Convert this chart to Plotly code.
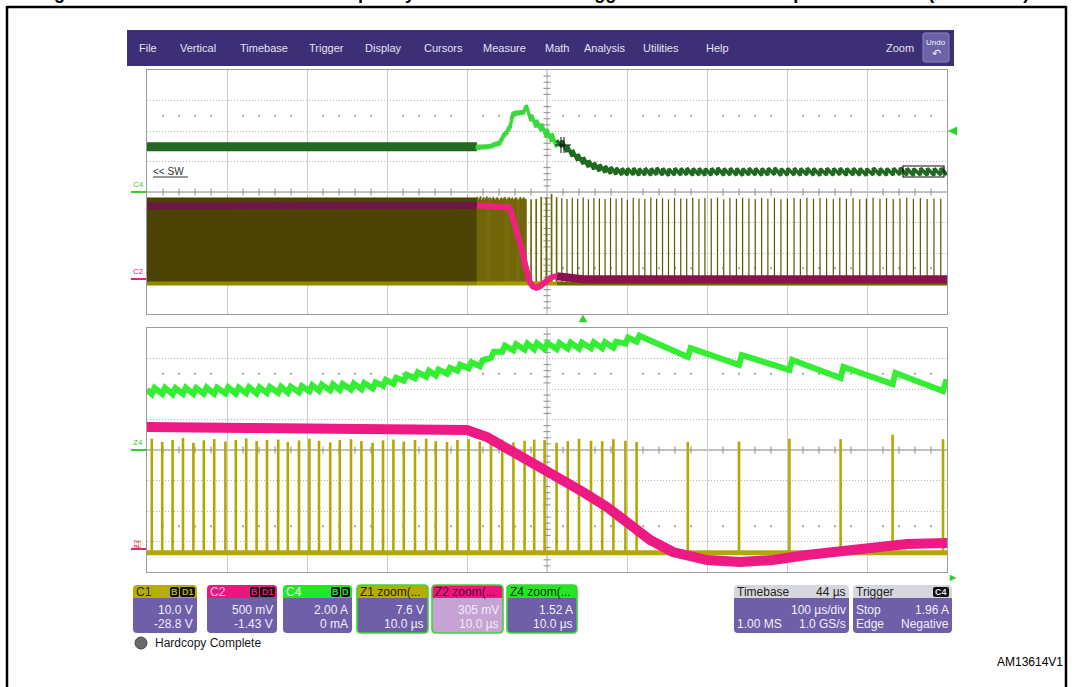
import numpy as np
import plotly.graph_objects as go

W, H = 1074, 687
FONT = "Liberation Sans, Arial, sans-serif"

# ======================= DATA =======================
menu_items = ["File", "Vertical", "Timebase", "Trigger", "Display", "Cursors",
              "Measure", "Math", "Analysis", "Utilities", "Help"]
channel_names = ["C1", "C2", "C4", "Z1 zoom(...", "Z2 zoom(...", "Z4 zoom(..."]
channel_row1 = ["10.0 V", "500 mV", "2.00 A", "7.6 V", "305 mV", "1.52 A"]
channel_row2 = ["-28.8 V", "-1.43 V", "0 mA", "10.0 \u00b5s", "10.0 \u00b5s", "10.0 \u00b5s"]
channel_badges = [["B", "D1"], ["B", "D1"], ["B", "D"], [], [], []]
timebase_texts = ["Timebase", "44 \u00b5s", "100 \u00b5s/div", "1.00 MS", "1.0 GS/s"]
trigger_texts = ["Trigger", "C4", "Stop", "1.96 A", "Edge", "Negative"]

# switching pulses inside the zoom window (µs, trigger at 0)
pulse_t_zoom = [-131.9, -130.6, -129.3, -128.0, -126.7, -125.4, -124.1, -122.7, -121.4, -120.1,
                -118.8, -117.5, -116.1, -114.9, -113.5, -112.2, -111.0, -109.6, -108.4, -107.0,
                -105.7, -104.3, -103.0, -101.7, -100.4, -99.0, -97.6, -96.4, -95.0, -93.7,
                -92.3, -90.9, -89.5, -88.1, -86.7, -85.3, -84.1, -82.8, -81.3, -79.9,
                -78.5, -77.0, -75.6, -74.2, -72.7, -71.3, -64.9, -58.5, -52.2, -45.8,
                -39.3, -33.0]
# switching pulses after the zoom window (µs)
pulse_t_late = [-26.5, -20.0, -13.4, -6.7, 0.2, 6.8, 13.6, 20.5, 27.6, 34.4,
                41.4, 48.5, 55.4, 62.8, 70.0, 77.3, 84.8, 92.0, 99.4, 106.9,
                114.4, 122.2, 129.6, 137.2, 144.9, 152.4, 160.3, 168.1, 175.9, 183.7,
                191.8, 199.5, 207.4, 215.3, 223.3, 231.1, 239.3, 247.4, 255.5, 263.8,
                271.7, 279.9, 288.1, 296.3, 304.5, 312.9, 321.0, 329.3, 337.6, 345.9,
                354.2, 362.6, 371.2, 379.4, 387.8, 396.2, 404.7, 413.0, 421.7, 430.2,
                438.7, 447.2]
# C1 (switch node voltage, V) pulse peaks
c1_peak_zoom = [27.2, 26.4, 26.9, 27.4, 26.2, 26.8, 27.1, 26.5, 26.9, 27.3,
                26.6, 26.9, 27.0, 26.4, 26.8, 27.2, 26.7, 26.3, 26.9, 27.1,
                26.6, 26.2, 26.8, 27.0, 26.5, 26.9, 27.2, 26.6, 26.4, 26.9,
                27.1, 26.5, 26.8, 27.0, 26.3, 26.7, 27.0, 26.9, 26.2, 26.6,
                27.2, 26.7, 26.6, 27.1, 26.7, 26.4, 26.4, 26.5, 27.2, 27.1,
                28.2, 27.1]
c1_peak_late = [26.8, 26.5, 26.9, 26.6, 27.0, 26.4, 26.8, 26.7, 26.5, 26.9,
                26.6, 26.8, 26.3, 26.9, 26.7, 26.5, 27.0, 26.6, 26.8, 26.4,
                26.9, 26.7, 26.6, 26.9, 26.5, 26.8, 26.7, 27.0, 26.4, 26.8,
                26.6, 26.9, 26.7, 26.5, 26.8, 26.6, 26.9, 26.4, 26.7, 26.8,
                26.5, 26.9, 26.6, 26.8, 26.7, 26.5, 26.9, 26.6, 26.8, 26.4,
                26.7, 26.9, 26.6, 26.8, 26.5, 26.7, 26.9, 26.6, 26.8, 26.5,
                26.7, 26.6]
c1_base_t = [-545.0, 455.0]
c1_base_v = [-1.2, -1.2]
# before the zoom window the switching is unresolved at 100 µs/div: envelope only
c1_block_t = [-545.0, -132.5]
c1_block_top = [26.9, 26.9]

# C4 (current, A): value just before / just after each pulse
c4_valley_zoom = [2.79, 2.80, 2.78, 2.80, 2.79, 2.81, 2.80, 2.82, 2.81, 2.83,
                  2.82, 2.84, 2.85, 2.86, 2.88, 2.93, 2.95, 2.97, 2.99, 3.01,
                  3.03, 3.07, 3.20, 3.30, 3.45, 3.57, 3.65, 3.71, 3.80, 3.95,
                  4.07, 4.17, 4.60, 4.90, 4.97, 5.00, 5.02, 5.03, 5.03, 5.05,
                  5.05, 5.07, 5.07, 5.10, 5.30, 5.40, 4.64, 4.24, 3.99, 3.59,
                  3.29, 2.94]
c4_peak_zoom = [3.09, 3.10, 3.08, 3.10, 3.09, 3.11, 3.10, 3.12, 3.11, 3.13,
                3.12, 3.14, 3.15, 3.16, 3.18, 3.23, 3.25, 3.27, 3.29, 3.31,
                3.33, 3.37, 3.50, 3.60, 3.75, 3.87, 3.95, 4.01, 4.10, 4.25,
                4.37, 4.47, 4.90, 5.20, 5.27, 5.30, 5.32, 5.33, 5.33, 5.35,
                5.35, 5.37, 5.37, 5.40, 5.60, 5.70, 5.08, 4.73, 4.49, 4.14,
                3.84, 3.39]
c4_valley_late = [2.95, 2.62, 2.32, 2.05, 1.83, 1.63, 1.48, 1.36, 1.27, 1.20,
                  1.15, 1.12, 1.10, 1.12, 1.08, 1.11, 1.09, 1.13, 1.10, 1.07,
                  1.11, 1.10, 1.12, 1.09, 1.11, 1.08, 1.10, 1.13, 1.09, 1.11,
                  1.10, 1.08, 1.12, 1.10, 1.09, 1.11, 1.13, 1.08, 1.10, 1.11,
                  1.09, 1.12, 1.10, 1.08, 1.11, 1.10, 1.12, 1.09, 1.11, 1.10,
                  1.08, 1.12, 1.10, 1.09, 1.11, 1.13, 1.10, 1.08, 1.11, 1.10,
                  1.09, 1.12]
c4_peak_late = [3.38, 3.05, 2.76, 2.49, 2.27, 2.07, 1.92, 1.80, 1.71, 1.64,
                1.59, 1.56, 1.55, 1.57, 1.53, 1.56, 1.54, 1.58, 1.55, 1.52,
                1.56, 1.55, 1.57, 1.54, 1.56, 1.53, 1.55, 1.58, 1.54, 1.56,
                1.55, 1.53, 1.57, 1.55, 1.54, 1.56, 1.58, 1.53, 1.55, 1.56,
                1.54, 1.57, 1.55, 1.53, 1.56, 1.55, 1.57, 1.54, 1.56, 1.55,
                1.53, 1.57, 1.55, 1.54, 1.56, 1.58, 1.55, 1.53, 1.56, 1.55,
                1.54, 1.57]
c4_start = (-132.5, 3.0)
c4_end = (455.0, 1.12)
c4_before_t = [-545.0, -132.5]
c4_before_i = [2.96, 2.96]

# C2 (V)
c2_t = [-545.0, -400.0, -250.0, -132.5, -120.0, -102.5, -92.5, -90.0, -85.9, -83.4,
        -80.9, -78.0, -75.0, -72.5, -69.6, -66.75, -62.5, -58.4, -54.25, -50.0,
        -45.9, -41.75, -37.5, -32.5, -20.0, 0.0, 100.0, 200.0, 300.0, 455.0]
c2_v = [1.20, 1.21, 1.20, 1.21, 1.20, 1.18, 1.18, 1.11, 0.93, 0.82,
        0.71, 0.56, 0.41, 0.25, 0.08, -0.04, -0.12, -0.14, -0.12, -0.07,
        -0.04, 0.01, 0.04, 0.05, 0.02, 0.0, 0.0, -0.01, 0.0, 0.0]

# ======================= LAYOUT CONSTANTS =======================
TX0, TX1 = 147, 947
TY0, TY1 = 70, 314
BY0, BY1 = 328, 572
TOP_RANGE = [-545.0, 455.0]
ZOOM_RANGE = [-132.5, -32.5]
C1_RANGE = [-11.2, 68.8]
C2_RANGE = [-0.57, 3.43]
C4_RANGE = [-8.0, 8.0]
Z1_RANGE = [-6.0, 54.8]
Z2_RANGE = [-0.24, 2.20]
Z4_RANGE = [-6.08, 6.08]
RISE = 0.35


def PX(x):
    return x / W


def PY(y):
    return 1 - y / H


shapes, annotations = [], []


def rect(x0, y0, x1, y1, fill=None, line=None, lw=0, layer="above"):
    shapes.append(dict(type="rect", xref="paper", yref="paper",
                       x0=PX(x0), x1=PX(x1), y0=PY(y1), y1=PY(y0),
                       fillcolor=fill or "rgba(0,0,0,0)", layer=layer,
                       line=dict(color=line or "rgba(0,0,0,0)", width=lw)))


def rpath(x0, y0, x1, y1, rt, rb, fill=None, line=None, lw=0):
    def P(x, y):
        return f"{PX(x):.5f},{PY(y):.5f}"
    d = (f"M{P(x0 + rt, y0)} L{P(x1 - rt, y0)} Q{P(x1, y0)} {P(x1, y0 + rt)} "
         f"L{P(x1, y1 - rb)} Q{P(x1, y1)} {P(x1 - rb, y1)} L{P(x0 + rb, y1)} "
         f"Q{P(x0, y1)} {P(x0, y1 - rb)} L{P(x0, y0 + rt)} Q{P(x0, y0)} {P(x0 + rt, y0)} Z")
    shapes.append(dict(type="path", xref="paper", yref="paper", path=d,
                       fillcolor=fill or "rgba(0,0,0,0)",
                       line=dict(color=line or "rgba(0,0,0,0)", width=lw)))


def tri(pts, color):
    d = "M" + " L".join(f"{PX(x):.5f},{PY(y):.5f}" for x, y in pts) + " Z"
    shapes.append(dict(type="path", xref="paper", yref="paper", path=d,
                       fillcolor=color, line=dict(color=color, width=0.5)))


def seg(x0, y0, x1, y1, color, w=1):
    shapes.append(dict(type="line", xref="paper", yref="paper",
                       x0=PX(x0), x1=PX(x1), y0=PY(y0), y1=PY(y1),
                       line=dict(color=color, width=w)))


def text(x, y, s, size=12, color="#000", anchor="left", angle=0, family=FONT):
    annotations.append(dict(xref="paper", yref="paper", x=PX(x), y=PY(y), text=s,
                            showarrow=False, xanchor=anchor, yanchor="middle",
                            textangle=angle, borderpad=0,
                            font=dict(family=family, size=size, color=color)))


fig = go.Figure()


def add(x, y, xa, ya, color, width, fill=None, fillcolor=None):
    fig.add_trace(go.Scatter(x=x, y=y, xaxis=xa, yaxis=ya, mode="lines",
                             line=dict(color=color, width=width),
                             fill=fill, fillcolor=fillcolor,
                             hoverinfo="skip", showlegend=False))


def grid_marks(xa, ya, xr, yr):
    dx = (xr[1] - xr[0]) / 50.0
    dy = (yr[1] - yr[0]) / 40.0
    xc = (xr[0] + xr[1]) / 2
    yc = (yr[0] + yr[1]) / 2
    xs = [xr[0] + dx * k for k in range(1, 50) if k % 5]
    ys = [yr[0] + dy * k for k in range(1, 40) if k % 5]
    fig.add_trace(go.Scatter(x=xs, y=[yc] * len(xs), xaxis=xa, yaxis=ya, mode="markers",
                             marker=dict(symbol="line-ns", size=5, line=dict(width=1, color="#8a8a8a")),
                             hoverinfo="skip", showlegend=False))
    fig.add_trace(go.Scatter(x=[xc] * len(ys), y=ys, xaxis=xa, yaxis=ya, mode="markers",
                             marker=dict(symbol="line-ew", size=5, line=dict(width=1, color="#8a8a8a")),
                             hoverinfo="skip", showlegend=False))
    rows = [yc + 12.5 * dy, yc - 12.5 * dy]
    fig.add_trace(go.Scatter(x=xs * 2, y=[rows[0]] * len(xs) + [rows[1]] * len(xs),
                             xaxis=xa, yaxis=ya, mode="markers",
                             marker=dict(symbol="square", size=2, color="#a8a8a8"),
                             hoverinfo="skip", showlegend=False))


def spikes(ts, peaks, base):
    xs, ys = [], []
    for t, p in zip(ts, peaks):
        xs += [t, t, None]
        ys += [base, p, None]
    return xs, ys


# ---- sawtooth of C4 built from pulse list ----
all_t = pulse_t_zoom + pulse_t_late
all_lo = c4_valley_zoom + c4_valley_late
all_hi = c4_peak_zoom + c4_peak_late
c4x, c4y = [c4_start[0]], [c4_start[1]]
for t, lo, hi in zip(all_t, all_lo, all_hi):
    c4x += [t, t + RISE]
    c4y += [lo, hi]
c4x.append(c4_end[0])
c4y.append(c4_end[1])
nb = 1 + 2 * len(pulse_t_zoom)

c2t = np.array(c2_t)
c2v = np.array(c2_v)
mL = c2t <= ZOOM_RANGE[0]
mW = (c2t >= ZOOM_RANGE[0]) & (c2t <= ZOOM_RANGE[1])
mR = c2t >= ZOOM_RANGE[1]

# ================= TOP PANEL =================
grid_marks("x", "y", TOP_RANGE, C1_RANGE)
add([c1_block_t[0], c1_block_t[1], c1_block_t[1], c1_block_t[0], c1_block_t[0]],
    [c1_base_v[0], c1_base_v[0], c1_block_top[1], c1_block_top[0], c1_base_v[0]],
    "x", "y", "#4b4404", 0.5, fill="toself", fillcolor="#4b4404")
sx, sy = spikes(pulse_t_zoom, c1_peak_zoom, c1_base_v[0])
add(sx, sy, "x", "y", "#726708", 1.7)
sx, sy = spikes(pulse_t_late, c1_peak_late, c1_base_v[0])
add(sx, sy, "x", "y", "#5e5502", 1.2)
add([c1_base_t[0], ZOOM_RANGE[0]], c1_base_v, "x", "y", "#8f8600", 4)
add(list(ZOOM_RANGE), c1_base_v, "x", "y", "#a59b00", 4)
add([ZOOM_RANGE[1], c1_base_t[1]], c1_base_v, "x", "y", "#6b6200", 4)
# C2
add(c2t[mL], c2v[mL], "x", "y3", "#6e1746", 7)
add(c2t[mW], c2v[mW], "x", "y3", "#f0207f", 6)
add(c2t[mR], c2v[mR], "x", "y3", "#8a1050", 8)
# C4
add(c4_before_t, c4_before_i, "x", "y4", "#226a22", 9)
add(c4x[:nb], c4y[:nb], "x", "y4", "#3ad83a", 3.5)
add(c4x[nb - 1:], c4y[nb - 1:], "x", "y4", "#1f6a1f", 3.5)

# ================= BOTTOM PANEL =================
grid_marks("x2", "y2", ZOOM_RANGE, Z1_RANGE)
add([ZOOM_RANGE[0] - 1, ZOOM_RANGE[1] + 1], c1_base_v, "x2", "y2", "#b3a800", 5)
sx, sy = spikes(pulse_t_zoom + pulse_t_late[:2], c1_peak_zoom + c1_peak_late[:2], c1_base_v[0])
add(sx, sy, "x2", "y2", "#b3a800", 2.6)
add(c2_t, c2_v, "x2", "y5", "#ee1a84", 10)
add(c4x, c4y, "x2", "y6", "#33ee33", 6)

# ================= AXES =================
common_x = dict(showgrid=True, gridcolor="#cdcdcd", gridwidth=1, zeroline=False,
                showticklabels=False, ticks="", showline=True, mirror=True,
                linecolor="#9c9c9c", linewidth=1, fixedrange=True)
common_y = dict(showgrid=True, gridcolor="#b4b4b4", griddash="1px,2px", gridwidth=1,
                zeroline=False, showticklabels=False, ticks="", showline=True,
                mirror=True, linecolor="#9c9c9c", linewidth=1, fixedrange=True)
xd = [PX(TX0), PX(TX1)]
layout = dict(
    xaxis=dict(domain=xd, range=TOP_RANGE, tick0=TOP_RANGE[0], dtick=100, anchor="y", **common_x),
    yaxis=dict(domain=[PY(TY1), PY(TY0)], range=C1_RANGE, tick0=C1_RANGE[0], dtick=10,
               anchor="x", **common_y),
    yaxis3=dict(overlaying="y", range=C2_RANGE, visible=False, anchor="x", fixedrange=True),
    yaxis4=dict(overlaying="y", range=C4_RANGE, visible=False, anchor="x", fixedrange=True),
    xaxis2=dict(domain=xd, range=ZOOM_RANGE, tick0=ZOOM_RANGE[0], dtick=10, anchor="y2", **common_x),
    yaxis2=dict(domain=[PY(BY1), PY(BY0)], range=Z1_RANGE, tick0=Z1_RANGE[0], dtick=7.6,
                anchor="x2", **common_y),
    yaxis5=dict(overlaying="y2", range=Z2_RANGE, visible=False, anchor="x2", fixedrange=True),
    yaxis6=dict(overlaying="y2", range=Z4_RANGE, visible=False, anchor="x2", fixedrange=True),
)

# centre cross lines
for xa, ya, xr, yr in [("x", "y", TOP_RANGE, C1_RANGE), ("x2", "y2", ZOOM_RANGE, Z1_RANGE)]:
    xc = (xr[0] + xr[1]) / 2
    yc = (yr[0] + yr[1]) / 2
    shapes.append(dict(type="line", xref=xa + " domain", yref=ya, x0=0, x1=1, y0=yc, y1=yc,
                       line=dict(color="#8a8a8a", width=1), layer="below"))
    shapes.append(dict(type="line", xref=xa, yref=ya + " domain", x0=xc, x1=xc, y0=0, y1=1,
                       line=dict(color="#b0b0b0", width=1), layer="below"))

# ================= CHROME =================
# document frame
seg(7, 7, 1066, 7, "#000", 2.5)
seg(7, 6, 7, 690, "#000", 2.5)
seg(1066, 6, 1066, 690, "#000", 2.5)

# cut-off figure title (only its lowest pixels are inside the picture)
annotations.append(dict(xref="paper", yref="paper", x=PX(36), y=1 + 7 / H, xanchor="left",
                        yanchor="middle", showarrow=False,
                        text="<b>Figure 34. Burst mode at reduced frequency: waveforms when triggered on the internal Ipk limit current (zoomed in)</b>",
                        font=dict(family=FONT, size=18, color="#000")))

# menu bar
rect(127, 30, 954, 66, fill="#3d2f76")
menu_x = [148, 198, 264, 326, 383, 443, 504, 557, 604, 661, 717]
for s, x in zip(menu_items, menu_x):
    text(x, 48, s, 11, "#e4e2f2", "center")
text(900, 48, "Zoom", 11, "#e4e2f2", "center")
rpath(923, 33, 949, 62, 2, 2, fill="#6c62a8", line="#8c84c4", lw=1)
text(936, 42, "Undo", 8, "#f0f0ff", "center")
text(936, 54, "\u21b6", 11, "#f0f0ff", "center", family="DejaVu Sans")

# channel labels at the left of the grids
text(138, 184, "C4", 8, "#2fcf2f", "center")
seg(131, 192, 146, 192, "#2fcf2f", 2)
text(138, 271, "C2", 8, "#e0207f", "center")
seg(131, 279, 146, 279, "#e0207f", 2)
text(138, 442, "Z4", 8, "#2fcf2f", "center")
seg(131, 450, 146, 450, "#2fcf2f", 2)
text(138, 544, "Z1", 8, "#b3a800", "center", angle=-90)
text(136, 544, "Z2", 8, "#e0207f", "center", angle=-90)
seg(131, 549, 146, 549, "#e0207f", 2)

text(152, 171, "&lt;&lt; SW", 10, "#333333", "left")
seg(153, 177, 188, 177, "#333333", 1)

# cursor cross & label box on top trace
seg(555, 145, 571, 145, "#111", 1)
seg(561, 137, 561, 153, "#111", 1)
seg(564, 137, 564, 153, "#111", 1)
rect(903, 166, 944, 177, line="#111", lw=1.2)

# markers
tri([(948, 131), (957, 127), (957, 135)], "#2fd02f")
tri([(583, 315), (579, 322), (587, 322)], "#2fd02f")
tri([(950, 575), (956, 578), (950, 581)], "#2fd02f")

# readout boxes
purple = "#6f5fa8"
boxes = [
    (133, 197, "#b7ad00", "#2a2600", purple, False),
    (207, 277, "#e8177e", "#ffc2e0", purple, False),
    (283, 352, "#24e624", "#f2fff2", purple, False),
    (357, 428, "#b7ad00", "#1e1c00", purple, True),
    (432, 503, "#e8177e", "#5a0030", "#c7a2d4", True),
    (507, 577, "#24e624", "#0c2a0c", purple, True),
]
BT, BH, BB = 585, 598, 633
for i, (x0, x1, hc, tc, bc, sel) in enumerate(boxes):
    rpath(x0, BT, x1, BH, 4, 0, fill=hc)
    rpath(x0, BH, x1, BB, 0, 4, fill=bc)
    if sel:
        rpath(x0, BT, x1, BB, 4, 4, line="#3fd23f", lw=1.6)
    text(x0 + 2, 591.5, channel_names[i], 12, tc, "left")
    bx = x1 - 2
    for b in reversed(channel_badges[i]):
        w = 9 if len(b) == 1 else 15
        rpath(bx - w, 587, bx, 597, 2, 2, fill="#0c0c0c")
        text(bx - w / 2, 592, "<b>" + b + "</b>", 9, hc, "center")
        bx -= w + 1
    text(x1 - 3, 610, channel_row1[i], 12, "#eeeef8", "right")
    text(x1 - 3, 624, channel_row2[i], 12, "#eeeef8", "right")

# timebase box
gray = "#d6d6de"
rpath(734, BT, 849, BH, 4, 0, fill=gray)
rpath(734, BH, 849, BB, 0, 4, fill=purple)
text(736, 591.5, timebase_texts[0], 12, "#222", "left")
text(847, 591.5, timebase_texts[1], 12, "#222", "right")
text(847, 610, timebase_texts[2], 12, "#eeeef8", "right")
text(736, 624, timebase_texts[3], 12, "#eeeef8", "left")
text(847, 624, timebase_texts[4], 12, "#eeeef8", "right")
# trigger box
rpath(853, BT, 952, BH, 4, 0, fill=gray)
rpath(853, BH, 952, BB, 0, 4, fill=purple)
text(855, 591.5, trigger_texts[0], 12, "#222", "left")
rpath(933, 587, 949, 597, 2, 2, fill="#0c0c0c")
text(941, 592, "<b>" + trigger_texts[1] + "</b>", 9, "#e0e0e0", "center")
text(855, 610, trigger_texts[2], 12, "#eeeef8", "left")
text(950, 610, trigger_texts[3], 12, "#eeeef8", "right")
text(855, 624, trigger_texts[4], 12, "#eeeef8", "left")
text(950, 624, trigger_texts[5], 12, "#eeeef8", "right")

# hardcopy status
shapes.append(dict(type="circle", xref="paper", yref="paper", x0=PX(135), x1=PX(147),
                   y0=PY(649), y1=PY(637), fillcolor="#6a6a6a", line=dict(color="#444", width=1)))
text(154, 643, "Hardcopy Complete", 12, "#1a1a1a", "left")

text(1064, 662, "AM13614V1", 12, "#000", "right")

fig.update_layout(width=W, height=H, margin=dict(l=0, r=0, t=0, b=0),
                  paper_bgcolor="white", plot_bgcolor="white", showlegend=False,
                  shapes=shapes, annotations=annotations, **layout)
fig.write_html("out.html", config={"displayModeBar": False},
               post_script="document.body.style.margin='0';document.body.style.overflow='hidden';")
